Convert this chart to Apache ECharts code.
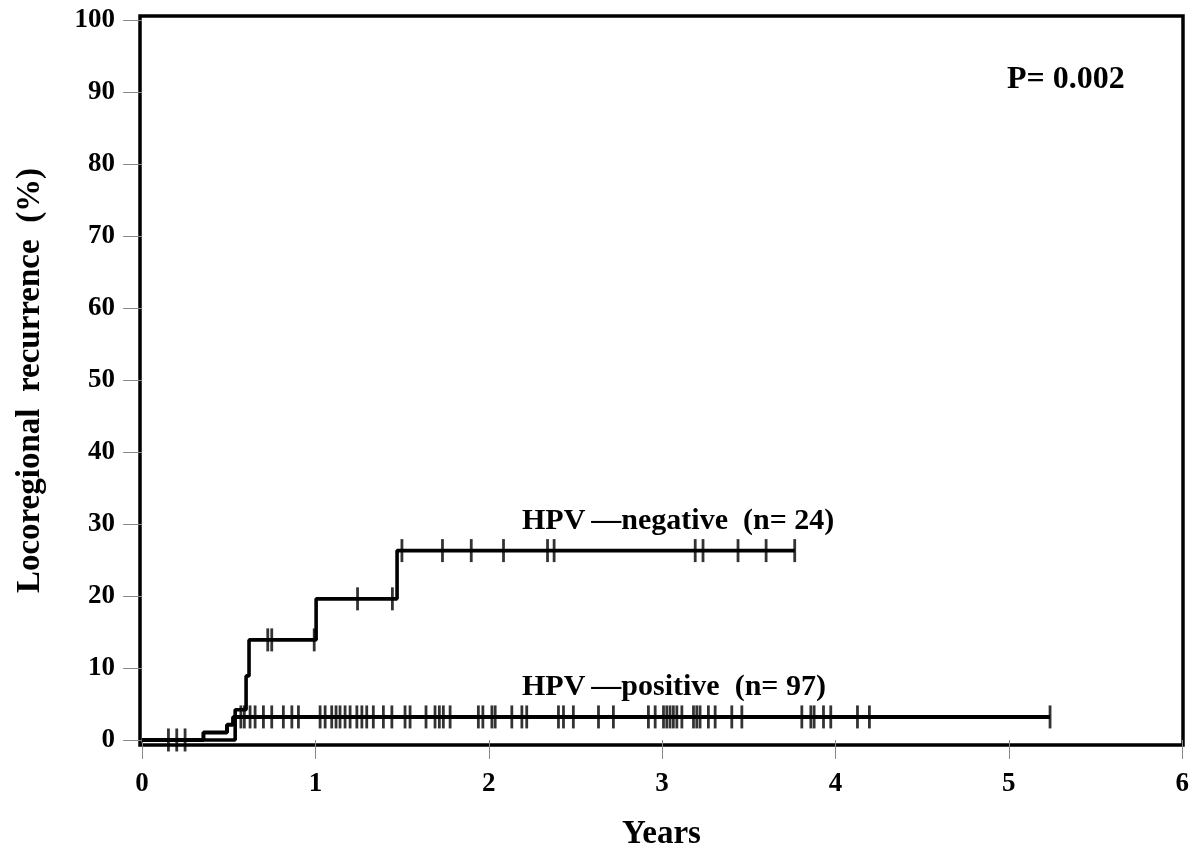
<!DOCTYPE html>
<html><head><meta charset="utf-8">
<script src="https://cdn.jsdelivr.net/npm/echarts@6/dist/echarts.min.js"></script>
<style>html,body{margin:0;padding:0;background:#fff}#c{width:1200px;height:857px}</style>
</head><body><div id="c"></div>
<script>
// ---- data ----
const xTickValues = [0, 1, 2, 3, 4, 5, 6];
const yTickValues = [0, 10, 20, 30, 40, 50, 60, 70, 80, 90, 100];

// Kaplan-Meier step curves (cumulative locoregional recurrence, %)
const negStepTimes  = [0, 0.537, 0.600, 0.617, 1.004, 1.471, 3.765];
const negStepValues = [0, 4.2, 8.9, 13.9, 19.6, 26.3, 26.3];
const posStepTimes  = [0, 0.354, 0.490, 0.525, 5.238];
const posStepValues = [0, 1.03, 2.1, 3.2, 3.2];

// censored observations (years)
const negCensorTimes = [0.725, 0.748, 0.993, 1.243, 1.444, 1.499, 1.733, 1.899, 2.085,
  2.339, 2.377, 3.191, 3.236, 3.438, 3.600, 3.765];
const posCensorTimes = [0.152, 0.200, 0.248, 0.570, 0.590, 0.623, 0.652, 0.700, 0.748,
  0.815, 0.864, 0.902, 1.027, 1.056, 1.094, 1.119, 1.142, 1.171, 1.200, 1.239, 1.268,
  1.296, 1.334, 1.392, 1.441, 1.517, 1.546, 1.638, 1.690, 1.715, 1.738, 1.777, 1.940,
  1.966, 2.018, 2.037, 2.133, 2.191, 2.219, 2.402, 2.431, 2.488, 2.633, 2.719, 2.921,
  2.960, 3.008, 3.027, 3.046, 3.065, 3.085, 3.114, 3.181, 3.200, 3.219, 3.267, 3.306,
  3.402, 3.460, 3.806, 3.858, 3.877, 3.931, 3.973, 4.127, 4.196, 5.238];

const negLabel = 'HPV\u2009\u2014negative  (n= 24)';
const posLabel = 'HPV\u2009\u2014positive  (n= 97)';
const pLabel = 'P= 0.002';
const xName = 'Years';
const yName = 'Locoregional  recurrence  (%)';

// ---- helpers ----
function stepAt(times, vals, t) {
  let v = vals[0];
  for (let i = 0; i < times.length; i++) { if (times[i] <= t + 1e-9) v = vals[i]; }
  return v;
}
const zip = (a, b) => a.map((x, i) => [x, b[i]]);
const FONT = '"Liberation Serif", "DejaVu Serif", serif';
const txt = (size) => ({ fontFamily: FONT, fontWeight: 'bold', fontSize: size, color: '#000' });
const annFont = 'bold 30px "Liberation Serif", serif';

const chart = echarts.init(document.getElementById('c'), null, { renderer: 'canvas' });
chart.setOption({
  backgroundColor: '#fff',
  animation: false,
  grid: { left: 140, right: 17, top: 16, bottom: 112, outerBoundsMode: 'none', containLabel: false,
          show: true, borderColor: '#000', borderWidth: 3.5, backgroundColor: 'transparent' },
  xAxis: {
    type: 'value', min: -0.012, max: 6.005,
    axisLine: { show: false }, splitLine: { show: false },
    axisTick: { show: true, customValues: xTickValues, length: 19, lineStyle: { color: '#888', width: 1 } },
    axisLabel: Object.assign({ customValues: xTickValues, margin: 26 }, txt(27)),
    name: xName, nameLocation: 'middle', nameGap: 73, nameTextStyle: txt(33)
  },
  yAxis: {
    type: 'value', min: -0.7, max: 100.55,
    axisLine: { show: false }, splitLine: { show: false },
    axisTick: { show: true, customValues: yTickValues, length: 19, lineStyle: { color: '#888', width: 1 } },
    axisLabel: Object.assign({ customValues: yTickValues, margin: 25 }, txt(27)),
    name: yName, nameLocation: 'middle', nameGap: 93, nameTextStyle: txt(33)
  },
  series: [
    { type: 'line', step: 'end', data: zip(negStepTimes, negStepValues), showSymbol: false,
      lineStyle: { color: '#000', width: 3.6 }, z: 3 },
    { type: 'line', step: 'end', data: zip(posStepTimes, posStepValues), showSymbol: false,
      lineStyle: { color: '#000', width: 4 }, z: 3 },
    { type: 'scatter', clip: false, symbol: 'rect', symbolSize: [2.8, 23],
      itemStyle: { color: '#000' }, z: 4,
      data: negCensorTimes.map(t => [t, stepAt(negStepTimes, negStepValues, t)]) },
    { type: 'scatter', clip: false, symbol: 'rect', symbolSize: [2.8, 23],
      itemStyle: { color: '#000' }, z: 4,
      data: posCensorTimes.map(t => [t, stepAt(posStepTimes, posStepValues, t)]) }
  ],
  graphic: [
    { type: 'text', left: 522, top: 506, style: { text: negLabel, font: annFont, fill: '#000' } },
    { type: 'text', left: 522, top: 672, style: { text: posLabel, font: annFont, fill: '#000' } },
    { type: 'text', left: 1007, top: 64, style: { text: pLabel, font: 'bold 32px "Liberation Serif", serif', fill: '#000' } }
  ]
});
</script>
</body></html>
